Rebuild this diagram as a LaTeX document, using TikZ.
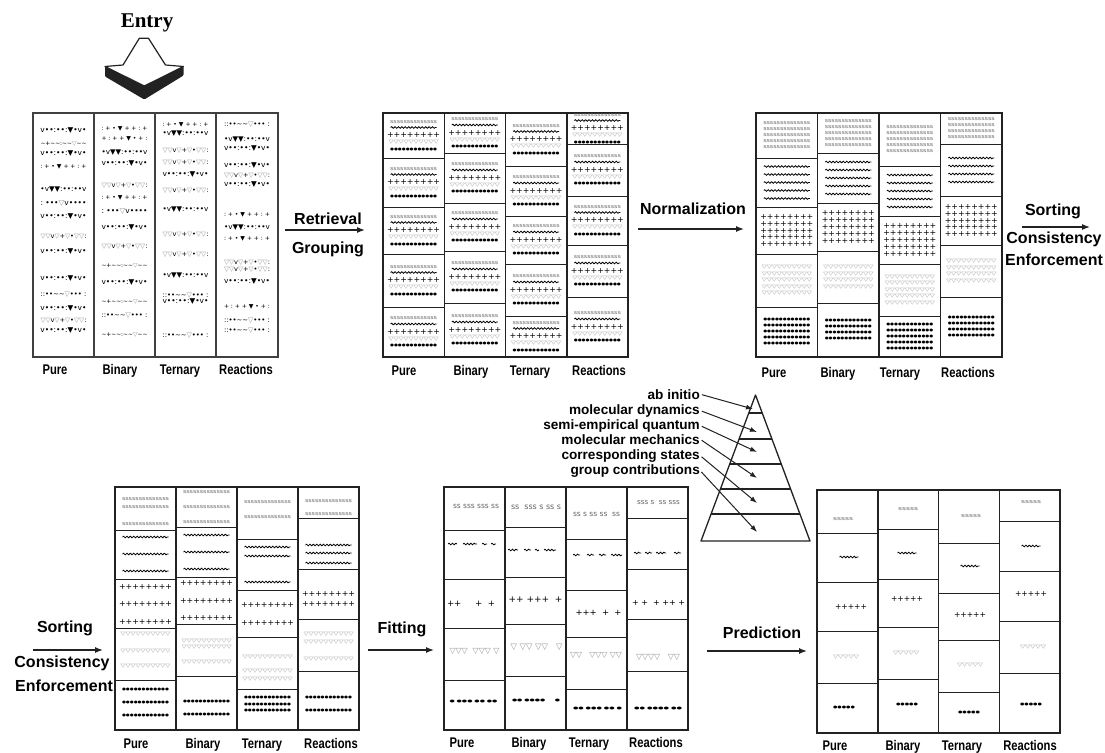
\documentclass[tikz,border=0pt]{standalone}
\usepackage{fontspec}
\usepackage{graphicx}
\usetikzlibrary{arrows.meta,decorations.pathmorphing,calc}
\newfontfamily\lab{Liberation Sans}
\newfontfamily\ser{Liberation Serif}
\newfontfamily\sym{DejaVu Sans}
\definecolor{ink}{HTML}{222222}
\definecolor{glyphgray}{HTML}{666666}
\definecolor{trigray}{HTML}{929292}
\newcounter{gl}

% record rows of each kind, scaled to a given width (pt)
\newcommand\gG[1]{\resizebox*{#1pt}{3pt}{\sym\color{glyphgray}ssssssssssssss}}
\newcommand\gP[1]{\resizebox*{#1pt}{5pt}{\sym ++++++++}}
\newcommand\gT[1]{\resizebox*{#1pt}{3.8pt}{\sym\color{trigray}▽▽▽▽▽▽▽▽▽▽}}
\newcommand\gD[1]{\resizebox*{#1pt}{2.9pt}{\sym ●●●●●●●●●●●●}}
\newcommand\gX[2]{\resizebox{#1pt}{!}{\sym #2}}
\newcommand\gY[2]{\resizebox*{#1pt}{2.9pt}{\sym #2}}

% raw, unsorted record rows
\newcommand\ti{\textasciitilde}
\newcommand\tg{\textcolor{trigray}{▽}}
\newcommand\prA{v••:••:▼•v•}
\newcommand\prB{\ti+\ti\ti:\ti\ti\tg\ti\ti}
\newcommand\prC{:\ +\ •\ ▼\ +\ +\ :\ +}
\newcommand\prD{•v▼▼:••:••v}
\newcommand\prE{:\ •••\tg v••••}
\newcommand\prF{\tg\tg v\tg+\tg•\tg\tg:}
\newcommand\prG{::••\ti\ti\tg•••\ :}
\newcommand\prH{+\ :\ +\ +\ ▼\ •\ +\ :}

% placing helpers
\newcommand\putg[3]{\stepcounter{gl}\node[glyph] (gl\arabic{gl}) at ({#1},{#2}) {#3};}
\newcommand\putw[3]{\draw[wavy] ({#1-(#3)/2},{#2}) -- ({#1+(#3)/2},{#2});}
\newcommand\wseg[3]{\draw[wavy] ({#1},{#3}) -- ({#2},{#3});}
\newcommand\rG[2]{\putg{#1}{#2}{\gG{47}}}
\newcommand\rW[2]{\putw{#1}{#2}{46}}
\newcommand\rP[2]{\putg{#1}{#2}{\gP{53}}}
\newcommand\rT[2]{\putg{#1}{#2}{\gT{50}}}
\newcommand\rD[2]{\putg{#1}{#2}{\gD{47}}}
% xc, top, bottom, rows, pitch, row drawer
\newcommand\recstack[6]{%
  \pgfmathsetmacro\cyy{(#2+#3)/2}%
  \foreach \k in {1,...,#4}{\pgfmathsetmacro\yy{\cyy+(\k-(#4+1)/2)*#5}#6{#1}{\yy}}}
% one grouped cell holding a row of every kind
\newcommand\mixcell[3]{%
  \pgfmathsetmacro\cyy{(#2+#3)/2}%
  \rG{#1}{\cyy-13.5}\rW{#1}{\cyy-8}\rP{#1}{\cyy-0.5}\rT{#1}{\cyy+7.2}\rD{#1}{\cyy+14}}
\newcommand\cnd[1]{\scalebox{0.8}[1]{#1}}

\tikzset{
  glyph/.style={inner sep=0pt,outer sep=0pt},
  wavy/.style={draw=black,line width=0.8pt,decorate,decoration={snake,amplitude=0.8pt,segment length=3.4pt}},
  rawframe/.style={draw=black!75,line width=2pt},
  frame/.style={draw=ink,line width=1.5pt},
  cellline/.style={draw=ink,line width=1pt},
  steplabel/.style={font=\lab\bfseries\fontsize{16}{18}\selectfont,inner sep=0pt,anchor=base},
  collabel/.style={font=\lab\bfseries\fontsize{14}{16}\selectfont,inner sep=0pt,anchor=base},
  pyrlabel/.style={font=\lab\bfseries\fontsize{13.6}{15}\selectfont,inner sep=0pt,anchor=base east},
  conn/.style={draw=ink,line width=1.3pt,-{Latex[length=8pt,width=6pt]}},
  pyrarrow/.style={draw=ink,line width=1pt,shorten <=2pt,-{Latex[length=7pt,width=5pt]}},
  pyr/.style={draw=ink,line width=1.3pt,line join=round},
}

\begin{document}
\begin{tikzpicture}[x=1pt,y=-1pt]
\fill[white] (0,0) rectangle (1105,752);
\useasboundingbox (0,0) rectangle (1105,752);

% ---------- entry arrow ----------
\node[font=\ser\bfseries\fontsize{21}{24}\selectfont,inner sep=0pt] (entry) at (147,23) {Entry};
\fill[ink,rounded corners=1pt] (105,66.5) -- (144.3,86) -- (183.5,66.5) -- (183.5,75.5) -- (144.3,99.5) -- (105,76.5) -- cycle;
\draw[ink,line width=1.2pt,fill=white,line join=round] (139.3,38.3) -- (148.5,38.3) -- (165.5,65) -- (183.5,66.5) -- (144.3,86) -- (105,66.5) -- (123,65) -- cycle;

% ---------- panel 1: raw records ----------
\draw[rawframe] (33,113) rectangle (278,357);
\draw[rawframe] (94,113) -- (94,357) (155,113) -- (155,357) (216,113) -- (216,357);
\foreach \y/\p in {131/A,144/B,154/A,167/C,190/D,204/E,217/A,237/F,252/A,279/A,295/G,309/A,321/F,331/A}
  {\putg{63.5}{\y}{\gX{46}{\csname pr\p\endcsname}}}
\foreach \y/\p in {129/C,139/H,153/D,164/A,186/F,198/C,212/E,228/A,247/F,266/B,283/A,302/B,316/G,335/B}
  {\putg{124.5}{\y}{\gX{46}{\csname pr\p\endcsname}}}
\foreach \y/\p in {125/C,134/D,151/F,163/F,175/A,191/F,210/D,235/F,255/F,276/D,296/G,302/A,336/G}
  {\putg{185.5}{\y}{\gX{46}{\csname pr\p\endcsname}}}
\foreach \y/\p in {125/G,140/D,149/A,166/A,176/F,185/A,215/C,228/D,239/C,263/F,270/F,282/A,307/H,321/G,331/G}
  {\putg{247}{\y}{\gX{46}{\csname pr\p\endcsname}}}
\node[collabel] (l1a) at (55,374) {\cnd{Pure}};
\node[collabel] (l1b) at (120,374) {\cnd{Binary}};
\node[collabel] (l1c) at (180,374) {\cnd{Ternary}};
\node[collabel] (l1d) at (246,374) {\cnd{Reactions}};

% ---------- panel 2: grouped records ----------
\draw[frame] (383,113) rectangle (628,357);
\draw[frame] (444.25,113) -- (444.25,357) (505.5,113) -- (505.5,357) (566.75,113) -- (566.75,357);
\foreach \xl/\ya/\yb/\yc/\yd in {383/158/207/254/307,444.25/153/203/251/303,505.5/166/216/264/316,566.75/144/196/245/297}{
  \draw[cellline] (\xl,\ya) -- ++(61.25,0) (\xl,\yb) -- ++(61.25,0) (\xl,\yc) -- ++(61.25,0) (\xl,\yd) -- ++(61.25,0);
  \pgfmathsetmacro\xc{\xl+30.6}
  \mixcell{\xc}{113}{\ya}\mixcell{\xc}{\ya}{\yb}\mixcell{\xc}{\yb}{\yc}\mixcell{\xc}{\yc}{\yd}\mixcell{\xc}{\yd}{357}
}
\node[collabel] (l2a) at (404,375) {\cnd{Pure}};
\node[collabel] (l2b) at (471,375) {\cnd{Binary}};
\node[collabel] (l2c) at (530,375) {\cnd{Ternary}};
\node[collabel] (l2d) at (599,375) {\cnd{Reactions}};

% ---------- panel 3: normalized records ----------
\draw[frame] (756,113) rectangle (1002,357);
\draw[frame] (817.5,113) -- (817.5,357) (879,113) -- (879,357) (940.5,113) -- (940.5,357);
\foreach \xl/\ya/\yb/\yc/\yd/\ng/\nw/\np/\nt/\nd in {756/158/207/254/307/5/5/5/5/5,817.5/153/203/251/303/5/5/5/4/4,879/166/216/264/316/5/5/5/5/5,940.5/144/196/245/297/4/4/5/4/4}{
  \draw[cellline] (\xl,\ya) -- ++(61.5,0) (\xl,\yb) -- ++(61.5,0) (\xl,\yc) -- ++(61.5,0) (\xl,\yd) -- ++(61.5,0);
  \pgfmathsetmacro\xc{\xl+30.75}
  \recstack{\xc}{113}{\ya}{\ng}{6}{\rG}
  \recstack{\xc}{\ya}{\yb}{\nw}{8}{\rW}
  \recstack{\xc}{\yb}{\yc}{\np}{6.8}{\rP}
  \recstack{\xc}{\yc}{\yd}{\nt}{6.5}{\rT}
  \recstack{\xc}{\yd}{357}{\nd}{6}{\rD}
}
\node[collabel] (l3a) at (774,377) {\cnd{Pure}};
\node[collabel] (l3b) at (838,377) {\cnd{Binary}};
\node[collabel] (l3c) at (900,377) {\cnd{Ternary}};
\node[collabel] (l3d) at (968,377) {\cnd{Reactions}};

% ---------- panel 4: sorted records ----------
\draw[frame] (115,487) rectangle (359,730);
\draw[frame] (176,487) -- (176,730) (237,487) -- (237,730) (298,487) -- (298,730);
\draw[cellline] (115,530) -- (176,530) (115,579) -- (176,579) (115,628) -- (176,628) (115,680) -- (176,680);
\draw[cellline] (176,527) -- (237,527) (176,577) -- (237,577) (176,624) -- (237,624) (176,676) -- (237,676);
\draw[cellline] (237,539) -- (298,539) (237,590) -- (298,590) (237,637) -- (298,637) (237,689) -- (298,689);
\draw[cellline] (298,518) -- (359,518) (298,569) -- (359,569) (298,619) -- (359,619) (298,671) -- (359,671);
\foreach \y in {499,507,524}{\rG{145.5}{\y}}
\foreach \y in {537,554,571}{\rW{145.5}{\y}}
\foreach \y in {587,604,622}{\rP{145.5}{\y}}
\foreach \y in {634,651,666}{\rT{145.5}{\y}}
\foreach \y in {690,703,716}{\rD{145.5}{\y}}
\foreach \y in {492,507,522}{\rG{206.5}{\y}}
\foreach \y in {535,552,569}{\rW{206.5}{\y}}
\foreach \y in {583,601,618}{\rP{206.5}{\y}}
\foreach \y in {641,647,662}{\rT{206.5}{\y}}
\foreach \y in {702,715}{\rD{206.5}{\y}}
\foreach \y in {502,517}{\rG{267.5}{\y}}
\foreach \y in {547,556,582}{\rW{267.5}{\y}}
\foreach \y in {605,623}{\rP{267.5}{\y}}
\foreach \y in {657,671,679}{\rT{267.5}{\y}}
\foreach \y in {698,705,711}{\rD{267.5}{\y}}
\foreach \y in {501,514}{\rG{328.5}{\y}}
\foreach \y in {545,553,563}{\rW{328.5}{\y}}
\foreach \y in {594,604}{\rP{328.5}{\y}}
\foreach \y in {634,642,659}{\rT{328.5}{\y}}
\foreach \y in {698,711}{\rD{328.5}{\y}}
\node[collabel] (l4a) at (136,748) {\cnd{Pure}};
\node[collabel] (l4b) at (203,748) {\cnd{Binary}};
\node[collabel] (l4c) at (262,748) {\cnd{Ternary}};
\node[collabel] (l4d) at (331,748) {\cnd{Reactions}};

% ---------- panel 5: fitted records ----------
\draw[frame] (444,487) rectangle (688,730);
\draw[frame] (505,487) -- (505,730) (566,487) -- (566,730) (627,487) -- (627,730);
\draw[cellline] (444,530) -- (505,530) (444,579) -- (505,579) (444,628) -- (505,628) (444,680) -- (505,680);
\draw[cellline] (505,527) -- (566,527) (505,577) -- (566,577) (505,624) -- (566,624) (505,676) -- (566,676);
\draw[cellline] (566,539) -- (627,539) (566,590) -- (627,590) (566,637) -- (627,637) (566,689) -- (627,689);
\draw[cellline] (627,518) -- (688,518) (627,569) -- (688,569) (627,619) -- (688,619) (627,671) -- (688,671);
% pure
\putg{476}{506}{\gX{46}{\color{glyphgray}ss\ sss\ sss\ ss}}
\wseg{448}{457}{544}\wseg{463}{477}{544}\wseg{482}{487}{544}\wseg{491}{496}{544}
\putg{471}{604}{\gX{48}{++\ \ \ \ \ +\ \ +}}
\putg{474.5}{651}{\gX{50}{\color{trigray}▽▽▽\ \ ▽▽▽\ ▽}}
\putg{473.5}{702}{\gY{48}{●\ ●●●\ ●●\ ●●}}
% binary
\putg{536}{507}{\gX{50}{\color{glyphgray}ss\ \ sss\ s\ ss\ s}}
\wseg{508}{518}{550}\wseg{524}{531}{550}\wseg{535}{539}{550}\wseg{544}{556}{550}
\putg{535.5}{600}{\gX{54}{++\ +++\ \ +}}
\putg{536.5}{647}{\gX{52}{\color{trigray}▽\ ▽▽\ ▽▽\ \ \ ▽}}
\putg{536}{701}{\gY{48}{●●\ ●●●●\ \ \ \ \ ●}}
% ternary
\putg{596.5}{514}{\gX{47}{\color{glyphgray}ss\ s\ ss\ ss\ \ ss}}
\wseg{573}{580}{555}\wseg{587}{594}{555}\wseg{599}{606}{555}\wseg{611}{622}{555}
\putg{598.5}{613}{\gX{46}{+++\ \ +\ \ +}}
\putg{596}{655}{\gX{52}{\color{trigray}▽▽\ \ \ ▽▽▽\ ▽▽}}
\putg{597.5}{709}{\gY{49}{●●\ ●●●\ ●●\ ●}}
% reactions
\putg{658.5}{503}{\gX{43}{\color{glyphgray}sss\ s\ \ ss\ sss}}
\wseg{634}{641}{553}\wseg{645}{652}{553}\wseg{656}{666}{553}\wseg{674}{681}{553}
\putg{658.5}{603}{\gX{53}{+\ +\ \ +\ ++\ +}}
\putg{658}{657}{\gX{44}{\color{trigray}▽▽▽▽\ \ \ ▽▽}}
\putg{658}{709}{\gY{48}{●●\ ●●●●\ ●●}}
\node[collabel] (l5a) at (462,747) {\cnd{Pure}};
\node[collabel] (l5b) at (529,747) {\cnd{Binary}};
\node[collabel] (l5c) at (589,747) {\cnd{Ternary}};
\node[collabel] (l5d) at (656,747) {\cnd{Reactions}};

% ---------- panel 6: predicted records ----------
\draw[frame] (817,490) rectangle (1060,733);
\draw[frame] (877.75,490) -- (877.75,733) (938.5,490) -- (938.5,733) (999.25,490) -- (999.25,733);
\draw[cellline] (817,533) -- (877.75,533) (817,582) -- (877.75,582) (817,631) -- (877.75,631) (817,683) -- (877.75,683);
\draw[cellline] (877.75,529) -- (938.5,529) (877.75,579) -- (938.5,579) (877.75,627) -- (938.5,627) (877.75,679) -- (938.5,679);
\draw[cellline] (938.5,543) -- (999.25,543) (938.5,593) -- (999.25,593) (938.5,640) -- (999.25,640) (938.5,692) -- (999.25,692);
\draw[cellline] (999.25,521) -- (1060,521) (999.25,571) -- (1060,571) (999.25,621) -- (1060,621) (999.25,673) -- (1060,673);
\foreach \xg/\yg/\xw/\yw/\xp/\yp/\xt/\yt/\xd/\yd in {843/519/849/557/851/607/846/657/844/708,908/509/907/553/907/599/906/653/907/705,971/516/970/566/970/615/970/665/969/713,1031/502/1031/546/1031/594/1033/647/1031/705}{
  \putg{\xg}{\yg}{\resizebox*{20pt}{3pt}{\sym\color{glyphgray}sssss}}
  \putw{\xw}{\yw}{19}
  \putg{\xp}{\yp}{\resizebox*{32pt}{5pt}{\sym +++++}}
  \putg{\xt}{\yt}{\resizebox*{26pt}{3.8pt}{\sym\color{trigray}▽▽▽▽▽}}
  \putg{\xd}{\yd}{\gY{22}{●●●●●}}
}
\node[collabel] (l6a) at (835,750) {\cnd{Pure}};
\node[collabel] (l6b) at (903,750) {\cnd{Binary}};
\node[collabel] (l6c) at (962,750) {\cnd{Ternary}};
\node[collabel] (l6d) at (1030,750) {\cnd{Reactions}};

% ---------- step arrows ----------
\coordinate (s1a) at (285,230); \coordinate (s1b) at (365,230);
\node[steplabel] (retr) at (328,224) {Retrieval};
\node[steplabel] (grp) at (328,253) {Grouping};
\draw[conn] (s1a) -- (s1b);

\coordinate (s2a) at (638,229); \coordinate (s2b) at (744,229);
\node[steplabel] (norm) at (693,214) {Normalization};
\draw[conn] (s2a) -- (s2b);

\coordinate (s3a) at (1022,227); \coordinate (s3b) at (1090,227);
\node[steplabel] (sortA) at (1053,215) {Sorting};
\node[steplabel] (consA) at (1054,243) {Consistency};
\node[steplabel] (enfA) at (1054,265) {Enforcement};
\draw[conn] (s3a) -- (s3b);

\coordinate (s4a) at (33,650); \coordinate (s4b) at (103,650);
\node[steplabel] (sortB) at (65,632) {Sorting};
\node[steplabel] (consB) at (62,667) {Consistency};
\node[steplabel] (enfB) at (64,691) {Enforcement};
\draw[conn] (s4a) -- (s4b);

\coordinate (s5a) at (368,650); \coordinate (s5b) at (434,650);
\node[steplabel] (fit) at (402,633) {Fitting};
\draw[conn] (s5a) -- (s5b);

\coordinate (s6a) at (707,651); \coordinate (s6b) at (807,651);
\node[steplabel] (pred) at (762,638) {Prediction};
\draw[conn] (s6a) -- (s6b);

% ---------- method pyramid ----------
\coordinate (apex) at (755.5,395);
\coordinate (bl) at (701,541);
\coordinate (br) at (810,541);
\draw[pyr] (apex) -- (bl) -- (br) -- cycle;
\foreach \t in {0.123,0.301,0.473,0.644,0.815}
  \draw[pyr] ($(apex)!\t!(bl)$) -- ($(apex)!\t!(br)$);
\node[pyrlabel] (m1) at (700,399) {ab initio};
\node[pyrlabel] (m2) at (700,414) {molecular dynamics};
\node[pyrlabel] (m3) at (700,429) {semi-empirical quantum};
\node[pyrlabel] (m4) at (700,444) {molecular mechanics};
\node[pyrlabel] (m5) at (700,459) {corresponding states};
\node[pyrlabel] (m6) at (700,474) {group contributions};
\coordinate (e1) at (753,409);
\coordinate (e2) at (757,432);
\coordinate (e3) at (757,452);
\coordinate (e4) at (757,478);
\coordinate (e5) at (757,503);
\coordinate (e6) at (757,532);
\foreach \i in {1,...,6} \draw[pyrarrow] (m\i.east) -- (e\i);
\end{tikzpicture}
\end{document}
